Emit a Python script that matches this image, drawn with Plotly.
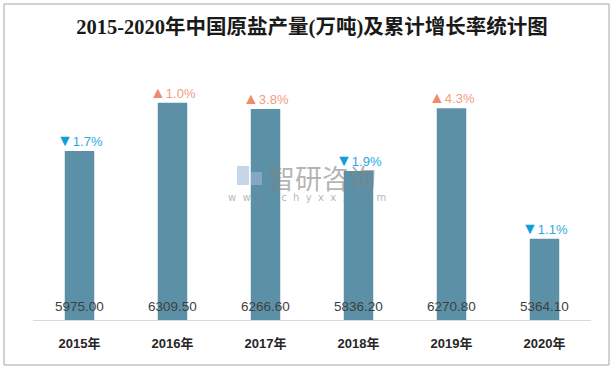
import plotly.graph_objects as go

years = ["2015年", "2016年", "2017年", "2018年", "2019年", "2020年"]
production = [5975.00, 6309.50, 6266.60, 5836.20, 6270.80, 5364.10]
growth = [-1.7, 1.0, 3.8, -1.9, 4.3, -1.1]

BAR = "#5B90A6"
BLUE_T, BLUE = "#0FA0DC", "#2AAAE2"
ORNG_T, ORNG = "#F08B6C", "#F29B7E"

fig = go.Figure()
fig.add_trace(go.Bar(x=years, y=production, marker=dict(color=BAR, line=dict(width=0)),
                     width=0.317, hoverinfo="skip"))

ann = []
for yr, v, g in zip(years, production, growth):
    if g < 0:
        txt = f"<span style='color:{BLUE_T};font-size:16px'>▼</span>{abs(g):.1f}%"
        col = BLUE
    else:
        txt = f"<span style='color:{ORNG_T};font-size:16px'>▲</span>{abs(g):.1f}%"
        col = ORNG
    ann.append(dict(x=yr, y=v, xref="x", yref="y", text=txt, showarrow=False,
                    yanchor="bottom", yshift=0,
                    font=dict(family="Liberation Sans, Arial", size=13, color=col)))
    ann.append(dict(x=yr, y=4800, xref="x", yref="y", text=f"{v:.2f}", showarrow=False,
                    yanchor="middle", yshift=14,
                    font=dict(family="Liberation Sans, Arial", size=13.5, color="#404040")))

def px(x):
    return (x - 33) / 558

def py(y):
    return (320 - y) / 259

# watermark
ann.append(dict(x=px(322), y=py(177), xref="paper", yref="paper",
                text="智研咨询", showarrow=False, xanchor="center", yanchor="middle",
                font=dict(family="Noto Sans CJK SC", size=27, color="rgba(130,130,130,0.6)")))
ann.append(dict(x=px(307), y=py(197), xref="paper", yref="paper",
                text="w  w  w  .  c  h  y  x  x  .  c  o  m", showarrow=False,
                xanchor="center", yanchor="middle",
                font=dict(family="DejaVu Sans", size=10, color="rgba(130,130,130,0.6)")))

shapes = [
    dict(type="rect", xref="paper", yref="paper", x0=px(4), x1=px(609), y0=py(365), y1=py(4),
         line=dict(color="#A6A6A6", width=1), fillcolor="rgba(0,0,0,0)", layer="above"),
    dict(type="rect", xref="paper", yref="paper", x0=px(237), x1=px(249), y0=py(185), y1=py(166),
         line=dict(width=0), fillcolor="rgba(160,185,215,0.6)", layer="above"),
    dict(type="rect", xref="paper", yref="paper", x0=px(251), x1=px(262), y0=py(185), y1=py(172),
         line=dict(width=0), fillcolor="rgba(160,185,215,0.6)", layer="above"),
]

fig.update_layout(
    width=615, height=369,
    margin=dict(l=33, r=24, t=61, b=49),
    paper_bgcolor="white", plot_bgcolor="white",
    showlegend=False,
    title=dict(text="<b>2015-2020年中国原盐产量(万吨)及累计增长率统计图</b>",
               x=0.5, xref="paper", y=1 - 27 / 369, yref="container",
               xanchor="center", yanchor="middle",
               font=dict(family="Liberation Serif, Noto Sans CJK SC", size=20.5, color="#1a1a1a")),
    xaxis=dict(showgrid=False, showline=True, linecolor="#D9D9D9", linewidth=1,
               ticks="outside", ticklen=11, tickcolor="rgba(0,0,0,0)",
               tickfont=dict(family="Liberation Sans, Noto Sans CJK SC", size=13, color="#262626"),
               tickprefix="<b>", ticksuffix="</b>"),
    yaxis=dict(range=[4800, 6600], visible=False, showgrid=False),
    annotations=ann,
    shapes=shapes,
)

fig.write_html("out.html", config={"displayModeBar": False},
               post_script="document.body.style.margin='0';document.body.style.padding='0';")
